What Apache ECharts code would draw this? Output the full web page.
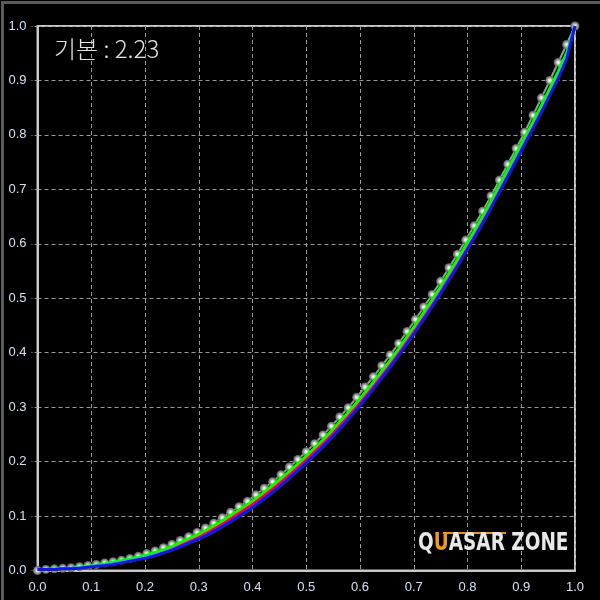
<!DOCTYPE html>
<html><head><meta charset="utf-8">
<script src="https://cdn.jsdelivr.net/npm/echarts@6/dist/echarts.min.js"></script>
<style>html,body{margin:0;padding:0;background:#000}#c{width:600px;height:600px}</style>
</head><body><div id="c"></div>
<script>
var titleText = '기본 : 2.23';
var axisTicks = ['0.0','0.1','0.2','0.3','0.4','0.5','0.6','0.7','0.8','0.9','1.0'];
var xs = [0,0.0156,0.0313,0.0469,0.0625,0.0781,0.0938,0.1094,0.125,0.1406,0.1563,0.1719,0.1875,0.2031,0.2188,0.2344,0.25,0.2656,0.2813,0.2969,0.3125,0.3281,0.3438,0.3594,0.375,0.3906,0.4063,0.4219,0.4375,0.4531,0.4688,0.4844,0.5,0.5156,0.5313,0.5469,0.5625,0.5781,0.5938,0.6094,0.625,0.6406,0.6563,0.6719,0.6875,0.7031,0.7188,0.7344,0.75,0.7656,0.7813,0.7969,0.8125,0.8281,0.8438,0.8594,0.875,0.8906,0.9063,0.9219,0.9375,0.9531,0.9688,0.9844,1];
var measured = [0,0.002,0.003,0.004,0.005,0.007,0.009,0.011,0.014,0.016,0.019,0.022,0.026,0.031,0.036,0.042,0.048,0.055,0.062,0.070,0.078,0.087,0.097,0.107,0.117,0.127,0.139,0.151,0.163,0.176,0.190,0.204,0.218,0.233,0.249,0.265,0.282,0.299,0.318,0.337,0.356,0.376,0.396,0.417,0.439,0.461,0.484,0.507,0.531,0.556,0.581,0.607,0.633,0.660,0.688,0.717,0.746,0.775,0.805,0.836,0.868,0.900,0.933,0.966,1.000];
var greenVals = [0.002,0.002,0.003,0.003,0.004,0.006,0.008,0.010,0.012,0.015,0.018,0.021,0.024,0.028,0.033,0.038,0.044,0.051,0.058,0.065,0.073,0.082,0.091,0.101,0.111,0.121,0.132,0.144,0.156,0.169,0.182,0.196,0.210,0.225,0.240,0.256,0.273,0.290,0.308,0.327,0.346,0.366,0.386,0.407,0.429,0.451,0.474,0.497,0.521,0.546,0.571,0.597,0.623,0.650,0.678,0.707,0.736,0.765,0.795,0.824,0.854,0.885,0.916,0.950,1.000];
var redVals = [0.002,0.002,0.002,0.003,0.004,0.005,0.007,0.009,0.011,0.013,0.016,0.019,0.022,0.026,0.030,0.035,0.041,0.047,0.054,0.061,0.068,0.077,0.086,0.095,0.105,0.115,0.126,0.138,0.150,0.162,0.176,0.189,0.204,0.218,0.234,0.250,0.267,0.284,0.302,0.321,0.340,0.360,0.380,0.401,0.423,0.445,0.468,0.491,0.515,0.540,0.565,0.591,0.617,0.644,0.672,0.701,0.730,0.759,0.789,0.818,0.848,0.879,0.910,0.945,1.000];
var blueVals = [0.002,0.002,0.002,0.003,0.003,0.004,0.006,0.008,0.009,0.011,0.014,0.017,0.020,0.023,0.027,0.032,0.037,0.043,0.050,0.056,0.063,0.071,0.080,0.089,0.099,0.109,0.120,0.131,0.143,0.156,0.169,0.183,0.197,0.212,0.227,0.243,0.260,0.277,0.295,0.314,0.333,0.353,0.373,0.394,0.416,0.438,0.461,0.484,0.508,0.533,0.558,0.584,0.610,0.637,0.665,0.694,0.723,0.752,0.782,0.811,0.841,0.872,0.903,0.939,1.000];

function pairs(v){ return xs.map(function(x,i){ return [x, v[i]]; }); }

var chart = echarts.init(document.getElementById('c'), null, {renderer:'canvas'});
var axisLabelStyle = {color:'#cfe2f5', fontSize:13, fontFamily:'Liberation Sans, Arial, sans-serif',
  formatter:function(v){ return axisTicks[Math.round(v*10)]; }};
chart.setOption({
  animation:false,
  backgroundColor:'#000',
  grid:{left:37.5, top:26, right:25, bottom:29.5, show:true, borderColor:'#c8c8c8', borderWidth:2},
  xAxis:{type:'value', min:0, max:1, interval:0.1,
    axisLine:{show:true, lineStyle:{color:'#c8c8c8', width:2}},
    axisTick:{show:false},
    axisLabel:Object.assign({margin:10}, axisLabelStyle),
    splitLine:{show:true, lineStyle:{color:'#9a9a9a', width:1, type:[4,3]}}},
  yAxis:{type:'value', min:0, max:1, interval:0.1,
    axisLine:{show:true, lineStyle:{color:'#c8c8c8', width:2}},
    axisTick:{show:true, length:6, lineStyle:{color:'#9a9a9a', type:[3,2]}},
    axisLabel:Object.assign({margin:11}, axisLabelStyle),
    splitLine:{show:true, lineStyle:{color:'#9a9a9a', width:1, type:[4,3]}}},
  series:[
    {type:'line', data:pairs(measured), symbol:'circle', symbolSize:9, showSymbol:true,
     lineStyle:{color:'#9a9a9a', width:2},
     itemStyle:{borderWidth:0, color:{type:'radial', x:0.5, y:0.5, r:0.5,
       colorStops:[{offset:0,color:'#ffffff'},{offset:0.3,color:'#dddddd'},{offset:0.6,color:'#9a9a9a'},{offset:1,color:'#5a5a5a'}]}},
     z:2},
    {type:'line', data:pairs(redVals), symbol:'none', lineStyle:{color:'#ff0000', width:3}, z:3},
    {type:'line', data:pairs(greenVals), symbol:'none', lineStyle:{color:'#00ff00', width:3}, z:4},
    {type:'line', data:pairs(blueVals), symbol:'none', lineStyle:{color:'#0a14ff', width:3}, z:5}
  ],
  graphic:[
    {type:'rect', left:0, top:0, shape:{width:600, height:600}, style:{fill:'none', stroke:'#5a5a5a', lineWidth:3}, silent:true, z:100},
    {type:'text', left:54, top:37, style:{text:titleText, fill:'#e4e4e4', fontSize:24, fontWeight:300,
      fontFamily:'Noto Sans CJK KR, Noto Sans, sans-serif'}, z:100},
    {type:'rect', left:443, top:532, shape:{width:63, height:2}, style:{fill:'#e8901a'}, z:100},
    {type:'text', left:418, top:532, scaleX:0.77, style:{rich:{
        w:{fill:'#e8e8e8', fontSize:24, fontWeight:'bold', fontFamily:'DejaVu Sans'},
        o:{fill:'#f09a1c', fontSize:24, fontWeight:'bold', fontFamily:'DejaVu Sans'}},
      text:'{w|Q}{o|U}{w|ASAR ZONE}'}, z:100}
  ]
});
</script></body></html>
